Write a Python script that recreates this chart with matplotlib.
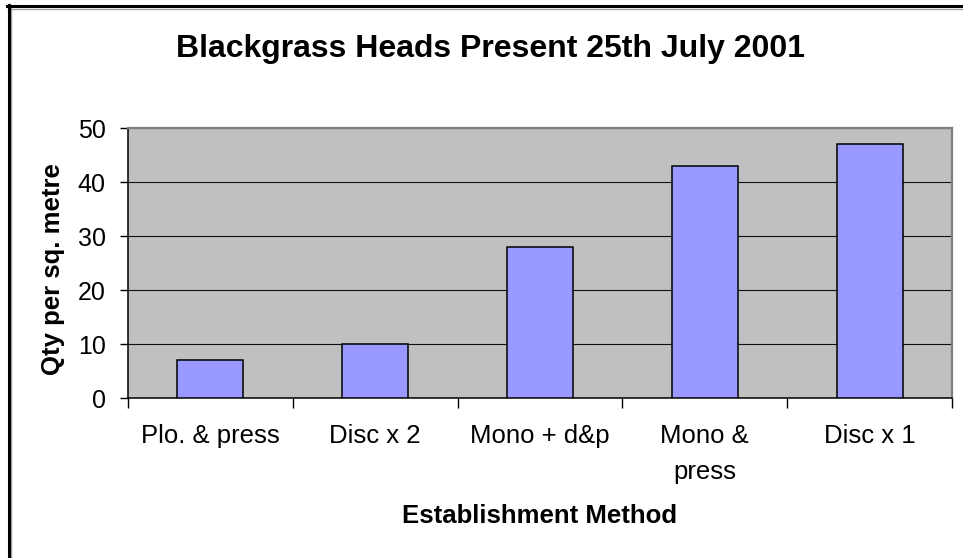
import numpy as np
import matplotlib.pyplot as plt
from matplotlib.lines import Line2D

# chart data
categories = ["Plo. & press", "Disc x 2", "Mono + d&p", "Mono &\npress", "Disc x 1"]
heads = [7, 10, 28, 43, 47]
y_ticks = [0, 10, 20, 30, 40, 50]

plt.rcParams['font.family'] = ['Liberation Sans', 'DejaVu Sans']

W, H = 963, 558
fig = plt.figure(figsize=(W / 100, H / 100), dpi=100)
fig.patch.set_facecolor("white")

# plot area in pixel terms
left, right, top, bottom = 128, 952, 128, 398
ax = fig.add_axes([left / W, 1 - bottom / H, (right - left) / W, (bottom - top) / H])
ax.set_facecolor("#C0C0C0")

x = np.arange(len(categories))
ax.bar(x, heads, width=0.4, color="#9999FF", edgecolor="black", linewidth=1.1, zorder=3)

ax.set_xlim(-0.5, len(categories) - 0.5)
ax.set_ylim(0, 50)
ax.set_yticks(y_ticks)
ax.yaxis.grid(True, color="#101010", linewidth=0.8, zorder=1)
ax.set_axisbelow(True)

# ticks on category boundaries, labels at centres
ax.set_xticks(np.arange(-0.5, len(categories), 1.0))
ax.set_xticklabels([])
ax.set_xticks(x, minor=True)
ax.set_xticklabels(categories, minor=True, fontsize=18.5, linespacing=1.6)
ax.tick_params(axis="x", which="minor", length=0, pad=19)
ax.tick_params(axis="x", which="major", length=7, width=1, direction="out")
ax.tick_params(axis="y", length=6, width=1, direction="out", labelsize=18, pad=10)
for lab in ax.get_xticklabels(minor=True):
    lab.set_verticalalignment("top")

for s in ["left", "bottom"]:
    ax.spines[s].set_color("black")
    ax.spines[s].set_linewidth(1.1)
for s in ["top", "right"]:
    ax.spines[s].set_color("#808080")
    ax.spines[s].set_linewidth(1.6)

# axis titles and chart title placed in pixel terms
fig.text(53 / W, 1 - 269 / H, "Qty per sq. metre", fontsize=18.5, fontweight="bold",
         rotation=90, ha="center", va="center")
fig.text(540 / W, 1 - 523 / H, "Establishment Method", fontsize=18.5, fontweight="bold",
         ha="center", va="baseline")
fig.text(490 / W, 1 - 57 / H, "Blackgrass Heads Present 25th July 2001",
         fontsize=23, fontweight="bold", ha="center", va="baseline")

# chart frame (only top and left edges are visible in the crop)
fig.add_artist(Line2D([8 / W, 1], [1 - 8.5 / H, 1 - 8.5 / H], color="#A0A0A0", linewidth=1.0))
fig.add_artist(Line2D([10.5 / W, 10.5 / W], [0, 1 - 6 / H], color="#A0A0A0", linewidth=1.0))
fig.add_artist(Line2D([7 / W, 1], [1 - 6 / H, 1 - 6 / H], color="black", linewidth=2.2))
fig.add_artist(Line2D([8.5 / W, 8.5 / W], [0, 1 - 5 / H], color="black", linewidth=2.2))

fig.savefig("out.png", dpi=100)
